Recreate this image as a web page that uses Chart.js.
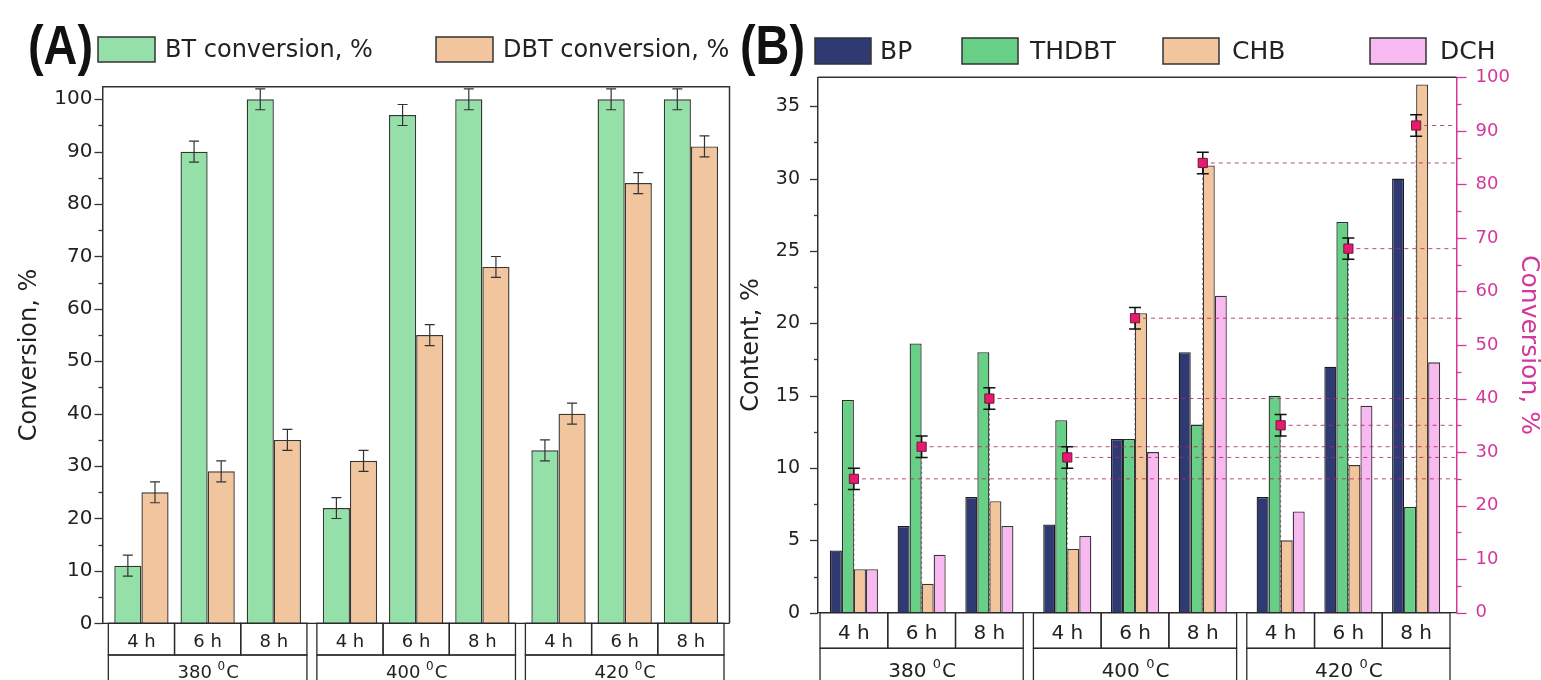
<!DOCTYPE html>
<html>
<head>
<meta charset="utf-8">
<script src="https://cdn.jsdelivr.net/npm/chart.js@4.4.1/dist/chart.umd.min.js"></script>
<style>
  body { margin: 0; background: #fff; width: 1541px; height: 680px; overflow: hidden; position: relative; }
  #chartA { position: absolute; left: 0; top: 0; }
  #chartB { position: absolute; left: 730px; top: 0; }
</style>
</head>
<body>
<canvas id="chartA" width="745" height="680"></canvas>
<canvas id="chartB" width="811" height="680"></canvas>
<script>
const FONT = "'DejaVu Sans', sans-serif";

const temps = ['380', '400', '420'];
const times = ['4 h', '6 h', '8 h'];

// (A) conversion, %
const btConversion  = [11, 90, 100, 22, 97, 100, 33, 100, 100];
const btError       = [2, 2, 2, 2, 2, 2, 2, 2, 2];
const dbtConversion = [25, 29, 35, 31, 55, 68, 40, 84, 91];
const dbtError      = [2, 2, 2, 2, 2, 2, 2, 2, 2];

// (B) product content, % and DBT conversion, %
const bpContent    = [4.3, 6, 8, 6.1, 12, 18, 8, 17, 30];
const thdbtContent = [14.7, 18.6, 18, 13.3, 12, 13, 15, 27, 7.3];
const chbContent   = [3, 2, 7.7, 4.4, 20.7, 30.9, 5, 10.2, 36.5];
const dchContent   = [3, 4, 6, 5.3, 11.1, 21.9, 7, 14.3, 17.3];
const totalConversion = [25, 31, 40, 29, 55, 84, 35, 68, 91];
const totalError      = [2, 2, 2, 2, 2, 2, 2, 2, 2];

// slot position: 3 times per temperature, small gap between temperature groups
const GROUP_STEP = 3.15;
function slotX(i) { return Math.floor(i / 3) * GROUP_STEP + (i % 3); }
function toPoints(values) { return values.map((v, i) => ({ x: slotX(i), y: v })); }

// boxes under the x axis: time row and temperature row
const categoryBoxes = {
  id: 'categoryBoxes',
  afterDraw(chart, args, opts) {
    const { ctx, chartArea: area } = chart;
    const x = chart.scales.x;
    const top = area.bottom, mid = top + opts.rowHeight, bottom = chart.height + 10;
    ctx.save();
    ctx.strokeStyle = '#2a2a2a';
    ctx.lineWidth = 1.3;
    ctx.fillStyle = '#222';
    ctx.textAlign = 'left';
    ctx.textBaseline = 'alphabetic';
    temps.forEach((t, g) => {
      const gl = x.getPixelForValue(slotX(g * 3) - 0.5);
      const gr = x.getPixelForValue(slotX(g * 3 + 2) + 0.5);
      ctx.strokeRect(gl, mid, gr - gl, bottom - mid);
      times.forEach((label, k) => {
        const c = slotX(g * 3 + k);
        const l = x.getPixelForValue(c - 0.5), r = x.getPixelForValue(c + 0.5);
        ctx.strokeRect(l, top, r - l, mid - top);
        ctx.font = `${opts.fontSize}px ${FONT}`;
        const w = ctx.measureText(label).width;
        ctx.fillText(label, (l + r) / 2 - w / 2, top + opts.timeBase);
      });
      // "380 ⁰C" with a raised small zero
      ctx.font = `${opts.fontSize}px ${FONT}`;
      const w1 = ctx.measureText(t + ' ').width, w3 = ctx.measureText('C').width;
      ctx.font = `${Math.round(opts.fontSize * 0.65)}px ${FONT}`;
      const w2 = ctx.measureText('0').width;
      let sx = (gl + gr) / 2 - (w1 + w2 + w3) / 2;
      const base = top + opts.tempBase;
      ctx.font = `${opts.fontSize}px ${FONT}`;
      ctx.fillText(t + ' ', sx, base);
      ctx.font = `${Math.round(opts.fontSize * 0.65)}px ${FONT}`;
      ctx.fillText('0', sx + w1, base - opts.fontSize * 0.45);
      ctx.font = `${opts.fontSize}px ${FONT}`;
      ctx.fillText('C', sx + w1 + w2 + 1, base);
    });
    ctx.beginPath();
    ctx.moveTo(area.left, top);
    ctx.lineTo(area.right, top);
    ctx.stroke();
    ctx.restore();
  }
};

// major / minor tick marks on y axes
const axisTicks = {
  id: 'axisTicks',
  afterDraw(chart, args, opts) {
    const ctx = chart.ctx;
    ctx.save();
    opts.axes.forEach(a => {
      const s = chart.scales[a.id];
      const x0 = a.side === 'left' ? s.right : s.left;
      const dir = a.side === 'left' ? -1 : 1;
      ctx.strokeStyle = a.color;
      ctx.lineWidth = 1.3;
      for (let v = s.min; v <= s.max + 1e-9; v += a.minor) {
        const major = Math.abs(v / a.major - Math.round(v / a.major)) < 1e-6;
        const y = Math.round(s.getPixelForValue(v)) + 0.5;
        ctx.beginPath();
        ctx.moveTo(x0, y);
        ctx.lineTo(x0 + dir * (major ? a.majorLen : a.minorLen), y);
        ctx.stroke();
      }
    });
    ctx.restore();
  }
};

// top (and right) frame lines
const frame = {
  id: 'frame',
  afterDraw(chart, args, opts) {
    const { ctx, chartArea: a } = chart;
    ctx.save();
    ctx.strokeStyle = '#333';
    ctx.lineWidth = 1.5;
    ctx.beginPath();
    ctx.moveTo(a.left, a.top);
    ctx.lineTo(a.right, a.top);
    if (opts.right) ctx.lineTo(a.right, a.bottom);
    ctx.stroke();
    ctx.restore();
  }
};

// legend boxes across the top with the panel tag
const panelLegend = {
  id: 'panelLegend',
  afterDraw(chart, args, opts) {
    const ctx = chart.ctx;
    ctx.save();
    ctx.fillStyle = '#111';
    ctx.textBaseline = 'alphabetic';
    ctx.font = "bold 56px 'Liberation Sans', Arial, sans-serif";
    const tw = ctx.measureText(opts.tag).width;
    ctx.translate(opts.tagX, opts.tagY);
    ctx.scale(opts.tagW / tw, 1);
    ctx.fillText(opts.tag, 0, 0);
    ctx.setTransform(1, 0, 0, 1, 0, 0);
    ctx.font = `${opts.fontSize}px ${FONT}`;
    ctx.textBaseline = 'middle';
    chart.data.datasets.filter(d => d.type !== 'line').forEach((ds, i) => {
      const [bx, tx] = opts.items[i];
      ctx.fillStyle = ds.backgroundColor;
      ctx.fillRect(bx, opts.boxY, opts.boxW, opts.boxH);
      ctx.strokeStyle = '#333';
      ctx.lineWidth = 1.5;
      ctx.strokeRect(bx, opts.boxY, opts.boxW, opts.boxH);
      ctx.fillStyle = '#222';
      ctx.fillText(ds.label, tx, opts.boxY + opts.boxH / 2 + 1);
    });
    ctx.restore();
  }
};

function drawErrorBar(ctx, scale, x, v, e, half) {
  const t = scale.getPixelForValue(v + e), b = scale.getPixelForValue(v - e);
  ctx.beginPath();
  ctx.moveTo(x, t); ctx.lineTo(x, b);
  ctx.moveTo(x - half, t); ctx.lineTo(x + half, t);
  ctx.moveTo(x - half, b); ctx.lineTo(x + half, b);
  ctx.stroke();
}

// error bars on bars (A)
const barErrors = {
  id: 'barErrors',
  afterDatasetsDraw(chart) {
    const ctx = chart.ctx;
    ctx.save();
    ctx.strokeStyle = '#333';
    ctx.lineWidth = 1.2;
    chart.data.datasets.forEach((ds, i) => {
      if (!ds.errors) return;
      const meta = chart.getDatasetMeta(i);
      meta.data.forEach((el, j) => drawErrorBar(ctx, meta.yScale, el.x, ds.data[j].y, ds.errors[j], 5));
    });
    ctx.restore();
  }
};

// drop lines + error bars under the conversion markers (B)
const markerLines = {
  id: 'markerLines',
  beforeDatasetDraw(chart, args) {
    const ds = chart.data.datasets[args.index];
    if (ds.type !== 'line') return;
    const { ctx, chartArea: a } = chart;
    const meta = args.meta;
    ctx.save();
    meta.data.forEach((pt, j) => {
      ctx.strokeStyle = 'rgba(176, 40, 100, 0.85)';
      ctx.lineWidth = 1;
      ctx.setLineDash([4, 4]);
      ctx.beginPath();
      ctx.moveTo(pt.x, pt.y); ctx.lineTo(a.right, pt.y);
      ctx.stroke();
      ctx.strokeStyle = 'rgba(70, 70, 70, 0.8)';
      ctx.setLineDash([2, 3]);
      ctx.beginPath();
      ctx.moveTo(pt.x, pt.y); ctx.lineTo(pt.x, a.bottom);
      ctx.stroke();
      ctx.setLineDash([]);
      ctx.strokeStyle = '#111';
      ctx.lineWidth = 1.5;
      drawErrorBar(ctx, meta.yScale, pt.x, ds.data[j].y, ds.errors[j], 6);
    });
    ctx.restore();
  }
};

new Chart(document.getElementById('chartA'), {
  type: 'bar',
  data: {
    datasets: [
      { label: 'BT conversion, %', data: toPoints(btConversion), errors: btError,
        backgroundColor: '#95dfa9', borderColor: '#2e3a31', borderWidth: 1.4 },
      { label: 'DBT conversion, %', data: toPoints(dbtConversion), errors: dbtError,
        backgroundColor: '#f1c59e', borderColor: '#3e352e', borderWidth: 1.4 }
    ]
  },
  options: {
    responsive: false,
    animation: false,
    devicePixelRatio: 1,
    layout: { padding: { left: 0, right: 15.5, top: 86.7, bottom: 56.7 } },
    datasets: { bar: { categoryPercentage: 0.82, barPercentage: 1 } },
    plugins: {
      legend: { display: false },
      tooltip: { enabled: false },
      panelLegend: { tag: '(A)', tagX: 28, tagY: 64, tagW: 65, boxY: 37, boxW: 57, boxH: 25, fontSize: 24,
                     items: [[98, 165], [436, 503]] },
      categoryBoxes: { rowHeight: 31.7, fontSize: 18, timeBase: 23.7, tempBase: 55 },
      axisTicks: { axes: [{ id: 'y', side: 'left', minor: 5, major: 10, majorLen: 8, minorLen: 4, color: '#333' }] },
      frame: { right: true }
    },
    scales: {
      x: {
        type: 'linear', display: false, offset: false, min: -0.588, max: 8.883,
        afterBuildTicks: s => { s.ticks = [{ value: s.min }, { value: s.max }]; }
      },
      y: {
        min: 0, max: 102.4,
        afterFit: s => { s.width = 102.5; },
        ticks: { stepSize: 10, includeBounds: false, padding: 10, color: '#222', font: { family: FONT, size: 20 } },
        grid: { display: false, drawTicks: false },
        border: { display: true, color: '#333', width: 1.5 },
        title: { display: true, text: 'Conversion, %', color: '#222',
                 font: { family: FONT, size: 24, lineHeight: 1 }, padding: { top: 18, bottom: 0 } }
      }
    }
  },
  plugins: [barErrors, categoryBoxes, axisTicks, frame, panelLegend]
});

const PINK = '#d3379a';

new Chart(document.getElementById('chartB'), {
  type: 'bar',
  data: {
    datasets: [
      { type: 'line', label: 'Conversion, %', data: toPoints(totalConversion), errors: totalError,
        yAxisID: 'y2', order: -1, showLine: false, pointStyle: 'rect', pointRadius: 6.5,
        pointBackgroundColor: '#e8196f', pointBorderColor: '#6b1b3d', pointBorderWidth: 1 },
      { label: 'BP', data: toPoints(bpContent), backgroundColor: '#2f3a73', borderColor: '#1c1c1c', borderWidth: 1.3 },
      { label: 'THDBT', data: toPoints(thdbtContent), backgroundColor: '#68cf86', borderColor: '#26302a', borderWidth: 1.3 },
      { label: 'CHB', data: toPoints(chbContent), backgroundColor: '#f2c59d', borderColor: '#3e352e', borderWidth: 1.3 },
      { label: 'DCH', data: toPoints(dchContent), backgroundColor: '#f8b9f1', borderColor: '#3e323c', borderWidth: 1.3 }
    ]
  },
  options: {
    responsive: false,
    animation: false,
    devicePixelRatio: 1,
    layout: { padding: { left: 0, right: 0, top: 77.3, bottom: 67.3 } },
    datasets: { bar: { categoryPercentage: 0.71, barPercentage: 1 } },
    plugins: {
      legend: { display: false },
      tooltip: { enabled: false },
      panelLegend: { tag: '(B)', tagX: 10, tagY: 64, tagW: 65, boxY: 38, boxW: 56, boxH: 26, fontSize: 25,
                     items: [[85, 150], [232, 300], [433, 502], [640, 710]] },
      categoryBoxes: { rowHeight: 35.6, fontSize: 20, timeBase: 26.3, tempBase: 64.3 },
      axisTicks: { axes: [
        { id: 'y', side: 'left', minor: 2.5, major: 5, majorLen: 8, minorLen: 4, color: '#333' },
        { id: 'y2', side: 'right', minor: 5, major: 10, majorLen: 10, minorLen: 5, color: PINK }
      ] },
      frame: { right: false }
    },
    scales: {
      x: {
        type: 'linear', display: false, offset: false, min: -0.53, max: 8.896,
        afterBuildTicks: s => { s.ticks = [{ value: s.min }, { value: s.max }]; }
      },
      y: {
        position: 'left', min: 0, max: 37,
        afterFit: s => { s.width = 88; },
        ticks: { stepSize: 5, includeBounds: false, padding: 18, color: '#222', font: { family: FONT, size: 19 } },
        grid: { display: false, drawTicks: false },
        border: { display: true, color: '#333', width: 1.5 },
        title: { display: true, text: 'Content, %', color: '#222',
                 font: { family: FONT, size: 24, lineHeight: 1 }, padding: { top: 10, bottom: 0 } }
      },
      y2: {
        position: 'right', min: 0, max: 100,
        afterFit: s => { s.width = 84.5; },
        ticks: { stepSize: 10, padding: 19, color: PINK, font: { family: FONT, size: 18 } },
        grid: { display: false, drawTicks: false },
        border: { display: true, color: PINK, width: 1.5 },
        title: { display: true, text: 'Conversion, %', color: PINK,
                 font: { family: FONT, size: 25, lineHeight: 1 }, padding: { top: 0, bottom: 0 } }
      }
    }
  },
  plugins: [markerLines, categoryBoxes, axisTicks, frame, panelLegend]
});
</script>
</body>
</html>
